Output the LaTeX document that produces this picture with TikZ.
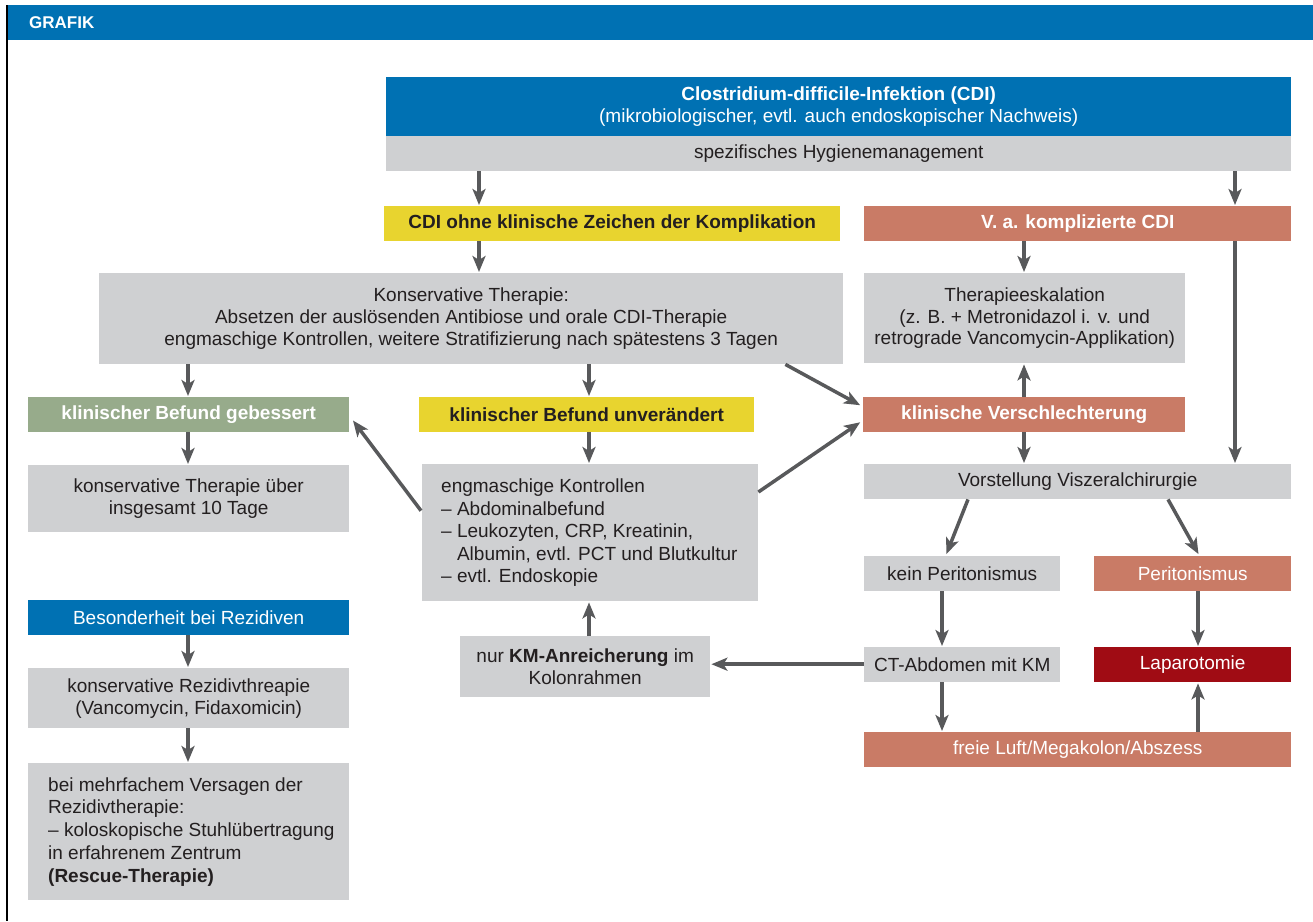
\documentclass[tikz,border=0pt]{standalone}
\usepackage{fontspec}
\setmainfont{Liberation Sans}
\usetikzlibrary{arrows.meta,calc}
\definecolor{cblue}{RGB}{0,113,179}
\definecolor{cgray}{RGB}{207,208,210}
\definecolor{cyellow}{RGB}{232,212,47}
\definecolor{csalmon}{RGB}{201,123,102}
\definecolor{cgreen}{RGB}{151,171,139}
\definecolor{cred}{RGB}{160,12,20}
\definecolor{carrow}{RGB}{88,89,91}
\definecolor{ctext}{RGB}{35,31,32}
\begin{document}
\begin{tikzpicture}[x=1pt,y=-1pt,
  box/.style={rectangle, inner sep=0pt, anchor=north west, align=center,
    font=\fontsize{19}{21.8}\selectfont, text=ctext},
  graybox/.style={box, fill=cgray},
  bluebox/.style={box, fill=cblue, text=white},
  yellowbox/.style={box, fill=cyellow, font=\fontsize{19}{21.8}\selectfont\bfseries},
  salmonbox/.style={box, fill=csalmon, text=white},
  boldsalmon/.style={salmonbox, font=\fontsize{19}{21.8}\selectfont\bfseries},
  greenbox/.style={box, fill=cgreen, text=white, font=\fontsize{19}{21.8}\selectfont\bfseries},
  redbox/.style={box, fill=cred, text=white},
  lefttext/.style={anchor=west, align=left, inner sep=0pt,
    font=\fontsize{19}{22.5}\selectfont, text=ctext},
  arr/.style={carrow, line width=3.5pt, shorten >=1pt,
    -{Stealth[length=16pt,width=13pt,inset=4pt]}},
]
\useasboundingbox (0,0) rectangle (1313,921);
% header
\node[box, fill=cblue, minimum width=1306, minimum height=35] (hdr) at (7,5) {};
\node[anchor=west, inner sep=0pt, text=white, font=\fontsize{17}{20}\selectfont\bfseries] (hdrt) at (29,22.5) {GRAFIK};
\draw[black, line width=2.5pt] (7,5) -- (7,921);

% boxes
\node[bluebox, minimum width=905, minimum height=59] (cdi) at (386,77)
  {\textbf{Clostridium-difficile-Infektion (CDI)}\\(mikrobiologischer, evtl. auch endoskopischer Nachweis)};
\node[graybox, minimum width=905, minimum height=35] (hyg) at (386,136) {spezifisches Hygienemanagement};
\node[yellowbox, minimum width=456, minimum height=35] (ohne) at (384,206) {CDI ohne klinische Zeichen der Komplikation};
\node[boldsalmon, minimum width=427, minimum height=35] (va) at (864,206) {V. a. komplizierte CDI};
\node[graybox, minimum width=744, minimum height=91] (kons) at (99,273)
  {Konservative Therapie:\\Absetzen der auslösenden Antibiose und orale CDI-Therapie\\engmaschige Kontrollen, weitere Stratifizierung nach spätestens 3 Tagen};
\node[graybox, minimum width=321, minimum height=90] (esk) at (864,273)
  {Therapieeskalation\\(z. B. + Metronidazol i. v. und\\retrograde Vancomycin-Applikation)};
\node[greenbox, minimum width=321, minimum height=35] (geb) at (28,397) {klinischer Befund gebessert};
\node[yellowbox, minimum width=335, minimum height=35] (unv) at (419,397) {klinischer Befund unverändert};
\node[boldsalmon, minimum width=322, minimum height=35] (vers) at (863,397) {klinische Verschlechterung};
\node[graybox, minimum width=321, minimum height=67] (zehn) at (28,465) {konservative Therapie über\\insgesamt 10 Tage};
\node[graybox, minimum width=336, minimum height=137] (eng) at (422,464) {};
\node[lefttext] (engt) at ($(eng.west)+(19,0)$)
  {engmaschige Kontrollen\\– Abdominalbefund\\– Leukozyten, CRP, Kreatinin,\\\hphantom{– }Albumin, evtl. PCT und Blutkultur\\– evtl. Endoskopie};
\node[graybox, minimum width=427, minimum height=35] (vor) at (864,464) {Vorstellung Viszeralchirurgie};
\node[graybox, minimum width=196, minimum height=35] (kein) at (864,556) {kein Peritonismus};
\node[salmonbox, minimum width=197, minimum height=35] (per) at (1094,556) {Peritonismus};
\node[graybox, minimum width=196, minimum height=35] (ct) at (864,647) {CT-Abdomen mit KM};
\node[redbox, minimum width=197, minimum height=35] (lap) at (1094,647) {Laparotomie};
\node[salmonbox, minimum width=427, minimum height=35] (frei) at (864,732) {freie Luft/Megakolon/Abszess};
\node[graybox, minimum width=250, minimum height=61] (km) at (460,636) {nur \textbf{KM-Anreicherung} im\\Kolonrahmen};
\node[bluebox, minimum width=321, minimum height=35] (bes) at (28,600) {Besonderheit bei Rezidiven};
\node[graybox, minimum width=321, minimum height=60] (rez) at (28,668) {konservative Rezidivthreapie\\(Vancomycin, Fidaxomicin)};
\node[graybox, minimum width=321, minimum height=137] (mehr) at (28,763) {};
\node[lefttext, font=\fontsize{19}{22.8}\selectfont] (mehrt) at ($(mehr.west)+(20,0)$)
  {bei mehrfachem Versagen der\\Rezidivtherapie:\\– koloskopische Stuhlübertragung\\in erfahrenem Zentrum\\\textbf{(Rescue-Therapie)}};

% x positions of vertical connectors
\coordinate (xa) at (479,0);
\coordinate (xb) at (1235,0);
\coordinate (xc) at (1024,0);
\coordinate (xd) at (188,0);
\coordinate (xe) at (589,0);
\coordinate (xf) at (942,0);
\coordinate (xg) at (1198,0);

\draw[arr] (hyg.south -| xa) -- (ohne.north -| xa);
\draw[arr] (hyg.south -| xb) -- (va.north -| xb);
\draw[arr] (ohne.south -| xa) -- (kons.north -| xa);
\draw[arr] (va.south -| xc) -- (esk.north -| xc);
\draw[arr] (va.south -| xb) -- (vor.north -| xb);
\draw[arr] (kons.south -| xd) -- (geb.north -| xd);
\draw[arr] (kons.south -| xe) -- (unv.north -| xe);
\draw[arr] ($(kons.south east)+(-58,0)$) -- ($(vers.west)+(-2,-9)$);
\draw[arr] (vers.north -| xc) -- (esk.south -| xc);
\draw[arr] (vers.south -| xc) -- (vor.north -| xc);
\draw[arr] (geb.south -| xd) -- (zehn.north -| xd);
\draw[arr] (unv.south -| xe) -- (eng.north -| xe);
\draw[arr] ($(eng.west)+(-1,-22)$) -- ($(geb.east)+(3,5)$);
\draw[arr] ($(eng.north east)+(0,28)$) -- ($(vers.west)+(-2,7)$);
\draw[arr] ($(vor.south west)+(104,0)$) -- ($(kein.north west)+(82,-1)$);
\draw[arr] ($(vor.south west)+(304,0)$) -- ($(per.north west)+(105,-1)$);
\draw[arr] (kein.south -| xf) -- (ct.north -| xf);
\draw[arr] (per.south -| xg) -- (lap.north -| xg);
\draw[arr] (ct.south -| xf) -- (frei.north -| xf);
\draw[arr] (frei.north -| xg) -- (lap.south -| xg);
\draw[arr] ($(ct.west)+(0,-0.5)$) -- ($(ct.west -| km.east)+(0,-0.5)$);
\draw[arr] (km.north -| xe) -- (eng.south -| xe);
\draw[arr] (bes.south -| xd) -- (rez.north -| xd);
\draw[arr] (rez.south -| xd) -- (mehr.north -| xd);
\end{tikzpicture}
\end{document}
